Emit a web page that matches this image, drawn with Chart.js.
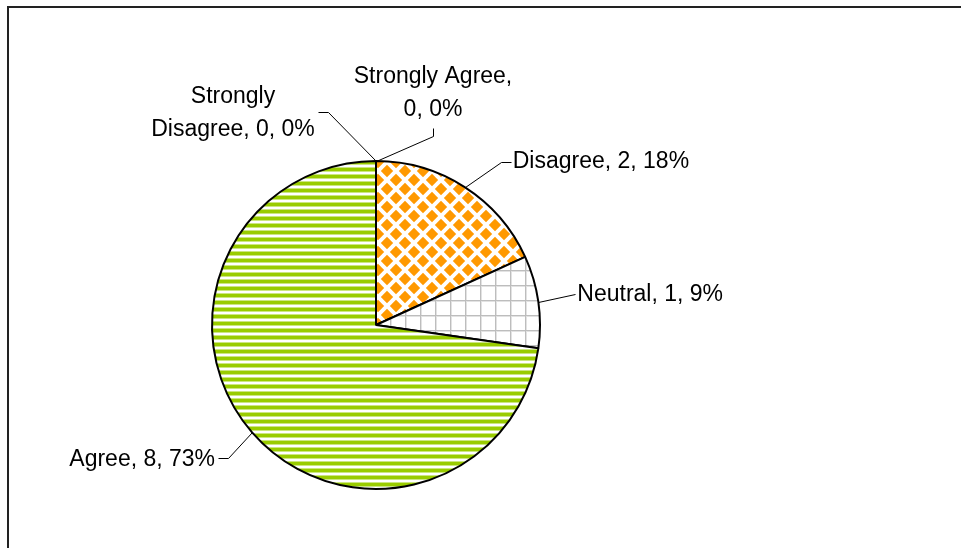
<!DOCTYPE html>
<html>
<head>
<meta charset="utf-8">
<script src="https://cdn.jsdelivr.net/npm/chart.js@4"></script>
<style>
  html, body { margin: 0; padding: 0; background: #fff; }
  #wrap { width: 961px; height: 548px; position: relative; }
</style>
</head>
<body>
<div id="wrap"><canvas id="pieChart"></canvas></div>
<script>
// data
const categories = ['Strongly Disagree', 'Disagree', 'Neutral', 'Agree', 'Strongly Agree'];
const counts = [0, 2, 1, 8, 0];
const percents = [0, 18, 9, 73, 0];
// how many words go on the first line of a wrapped label (0 = no wrap)
const firstLineWords = [1, 0, 0, 0, 2];

// label layout relative to the slice's edge point
const labelLayout = [
    { leader: [[0, 0], [-48, -49], [-58, -49]], tx: -143, ty: -64, align: 'center' },
    { leader: [[0, 0], [36, -25], [46, -25]], tx: 48, ty: -25, align: 'left' },
    { leader: [[0, 0], [37, -8]], tx: 39, ty: -7, align: 'left' },
    { leader: [[0, 0], [-24, 26], [-34, 26]], tx: -37, ty: 27, align: 'right' },
    { leader: [[0, 0], [57, -25], [57, -33]], tx: 57, ty: -84, align: 'center' }
];

const FONT = '23px "Liberation Sans", Arial, sans-serif';
const LINE_H = 33;

function makeCanvas(w, h) {
    const c = document.createElement('canvas');
    c.width = w; c.height = h;
    return c;
}

function diamondPattern(ctx) {
    const s = 18, h = 6.2;
    const c = makeCanvas(s, s);
    const g = c.getContext('2d');
    g.fillStyle = '#fff';
    g.fillRect(0, 0, s, s);
    g.fillStyle = '#FF9900';
    [[0, 0], [s, 0], [0, s], [s, s], [s / 2, s / 2]].forEach(p => {
        g.beginPath();
        g.moveTo(p[0], p[1] - h);
        g.lineTo(p[0] + h, p[1]);
        g.lineTo(p[0], p[1] + h);
        g.lineTo(p[0] - h, p[1]);
        g.closePath();
        g.fill();
    });
    return ctx.createPattern(c, 'repeat');
}

function gridPattern(ctx) {
    const s = 15;
    const c = makeCanvas(s, s);
    const g = c.getContext('2d');
    g.fillStyle = '#fff';
    g.fillRect(0, 0, s, s);
    g.fillStyle = '#E2E2E2';
    g.fillRect(0, 0, s, 2);
    g.fillRect(0, 0, 2, s);
    g.fillStyle = '#BDBDBD';
    g.fillRect(0, 0, s, 1);
    g.fillRect(0, 0, 1, s);
    return ctx.createPattern(c, 'repeat');
}

function stripePattern(ctx) {
    const c = makeCanvas(8, 7);
    const g = c.getContext('2d');
    g.fillStyle = '#fff';
    g.fillRect(0, 0, 8, 7);
    g.fillStyle = '#99CC00';
    g.fillRect(0, 0, 8, 3);
    g.fillStyle = '#CCE680';
    g.fillRect(0, 3, 8, 1);
    g.fillRect(0, 6, 8, 1);
    return ctx.createPattern(c, 'repeat');
}

function labelLines(i) {
    const text = categories[i] + ', ' + counts[i] + ', ' + percents[i] + '%';
    const n = firstLineWords[i];
    if (!n) return [text];
    const words = text.split(' ');
    return [words.slice(0, n).join(' '), words.slice(n).join(' ')];
}

const framePlugin = {
    id: 'frame',
    beforeDraw(chart) {
        const ctx = chart.ctx;
        ctx.save();
        ctx.fillStyle = '#fff';
        ctx.fillRect(0, 0, chart.width, chart.height);
        ctx.strokeStyle = '#222';
        ctx.lineWidth = 2;
        ctx.strokeRect(8, 7, chart.width + 20, chart.height + 20);
        ctx.restore();
    }
};

const labelPlugin = {
    id: 'pieLabels',
    afterDatasetsDraw(chart) {
        const ctx = chart.ctx;
        const arcs = chart.getDatasetMeta(0).data;
        ctx.save();
        ctx.font = FONT;
        ctx.fillStyle = '#000';
        ctx.strokeStyle = '#000';
        ctx.lineWidth = 1;
        ctx.textBaseline = 'middle';
        arcs.forEach((arc, i) => {
            const p = arc.getProps(['x', 'y', 'startAngle', 'endAngle', 'outerRadius'], true);
            const mid = (p.startAngle + p.endAngle) / 2;
            const ax = p.x + Math.cos(mid) * p.outerRadius;
            const ay = p.y + Math.sin(mid) * p.outerRadius;
            const lay = labelLayout[i];
            ctx.beginPath();
            lay.leader.forEach((pt, k) => {
                const x = Math.round(ax + pt[0]) + 0.5, y = Math.round(ay + pt[1]) + 0.5;
                if (k === 0) ctx.moveTo(x, y); else ctx.lineTo(x, y);
            });
            ctx.stroke();
            ctx.textAlign = lay.align;
            labelLines(i).forEach((line, k) => {
                ctx.fillText(line, ax + lay.tx, ay + lay.ty + k * LINE_H);
            });
        });
        ctx.restore();
    }
};

const ctx = document.getElementById('pieChart').getContext('2d');
const fills = ['#ffffff', diamondPattern(ctx), gridPattern(ctx), stripePattern(ctx), '#ffffff'];

new Chart(ctx, {
    type: 'pie',
    data: {
        labels: categories,
        datasets: [{
            data: counts,
            backgroundColor: fills,
            borderColor: '#000',
            borderWidth: 2
        }]
    },
    options: {
        responsive: true,
        maintainAspectRatio: false,
        animation: false,
        devicePixelRatio: 1,
        layout: { padding: { left: 211, right: 420, top: 160, bottom: 58 } },
        plugins: {
            legend: { display: false },
            tooltip: { enabled: false }
        }
    },
    plugins: [framePlugin, labelPlugin]
});
</script>
</body>
</html>
